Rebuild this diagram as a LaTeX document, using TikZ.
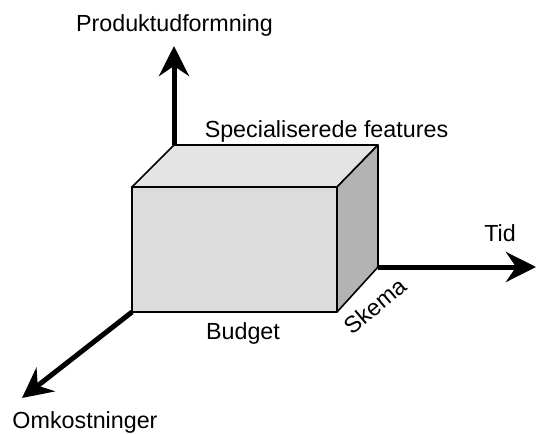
\documentclass[tikz,border=0pt]{standalone}
\usepackage{fontspec}
\setmainfont{Liberation Sans}
\usetikzlibrary{arrows.meta}

\definecolor{frontgray}{HTML}{DCDCDC}
\definecolor{topgray}{HTML}{E4E4E4}
\definecolor{sidegray}{HTML}{B3B3B3}

\begin{document}
\begin{tikzpicture}[x=1pt, y=-1pt,
    axis/.style={line width=5pt, -{Stealth[length=30pt, width=30pt, inset=10pt]}},
    face/.style={draw=black, line width=1.6pt, line join=round},
    lbl/.style={font=\fontsize{23.3}{28}\selectfont, anchor=base, inner sep=0pt}]
    \useasboundingbox (0,0) rectangle (537,433);

    % Corners of the box (front face, then the back offset)
    \coordinate (ftl) at (132,187);
    \coordinate (ftr) at (337,187);
    \coordinate (fbr) at (337,312);
    \coordinate (fbl) at (132,312);
    \coordinate (btl) at (174,145);
    \coordinate (btr) at (378,145);
    \coordinate (bbr) at (378,267);

    % Arrow tips of the three axes
    \coordinate (uptip) at (174,46);
    \coordinate (righttip) at (536,267);
    \coordinate (downtip) at (22,398);

    % Draw the axes first so the box covers them
    \draw[axis] (btl) -- (uptip);
    \draw[axis] (bbr) -- (righttip);
    \draw[axis] (fbl) -- (downtip);

    % Draw the box faces
    \filldraw[face, fill=topgray] (ftl) -- (btl) -- (btr) -- (ftr) -- cycle;
    \filldraw[face, fill=sidegray] (ftr) -- (btr) -- (bbr) -- (fbr) -- cycle;
    \filldraw[face, fill=frontgray] (ftl) -- (ftr) -- (fbr) -- (fbl) -- cycle;

    % Add labels
    \node[lbl] (produkt) at (174.5,32) {Produktudformning};
    \node[lbl] (features) at (326.5,137) {Specialiserede features};
    \node[lbl] (tid) at (500,241) {Tid};
    \node[lbl] (budget) at (243,339) {Budget};
    \node[lbl, anchor=center, rotate=40] (skema) at (375,306) {Skema};
    \node[lbl] (omk) at (85,428) {Omkostninger};
\end{tikzpicture}
\end{document}
